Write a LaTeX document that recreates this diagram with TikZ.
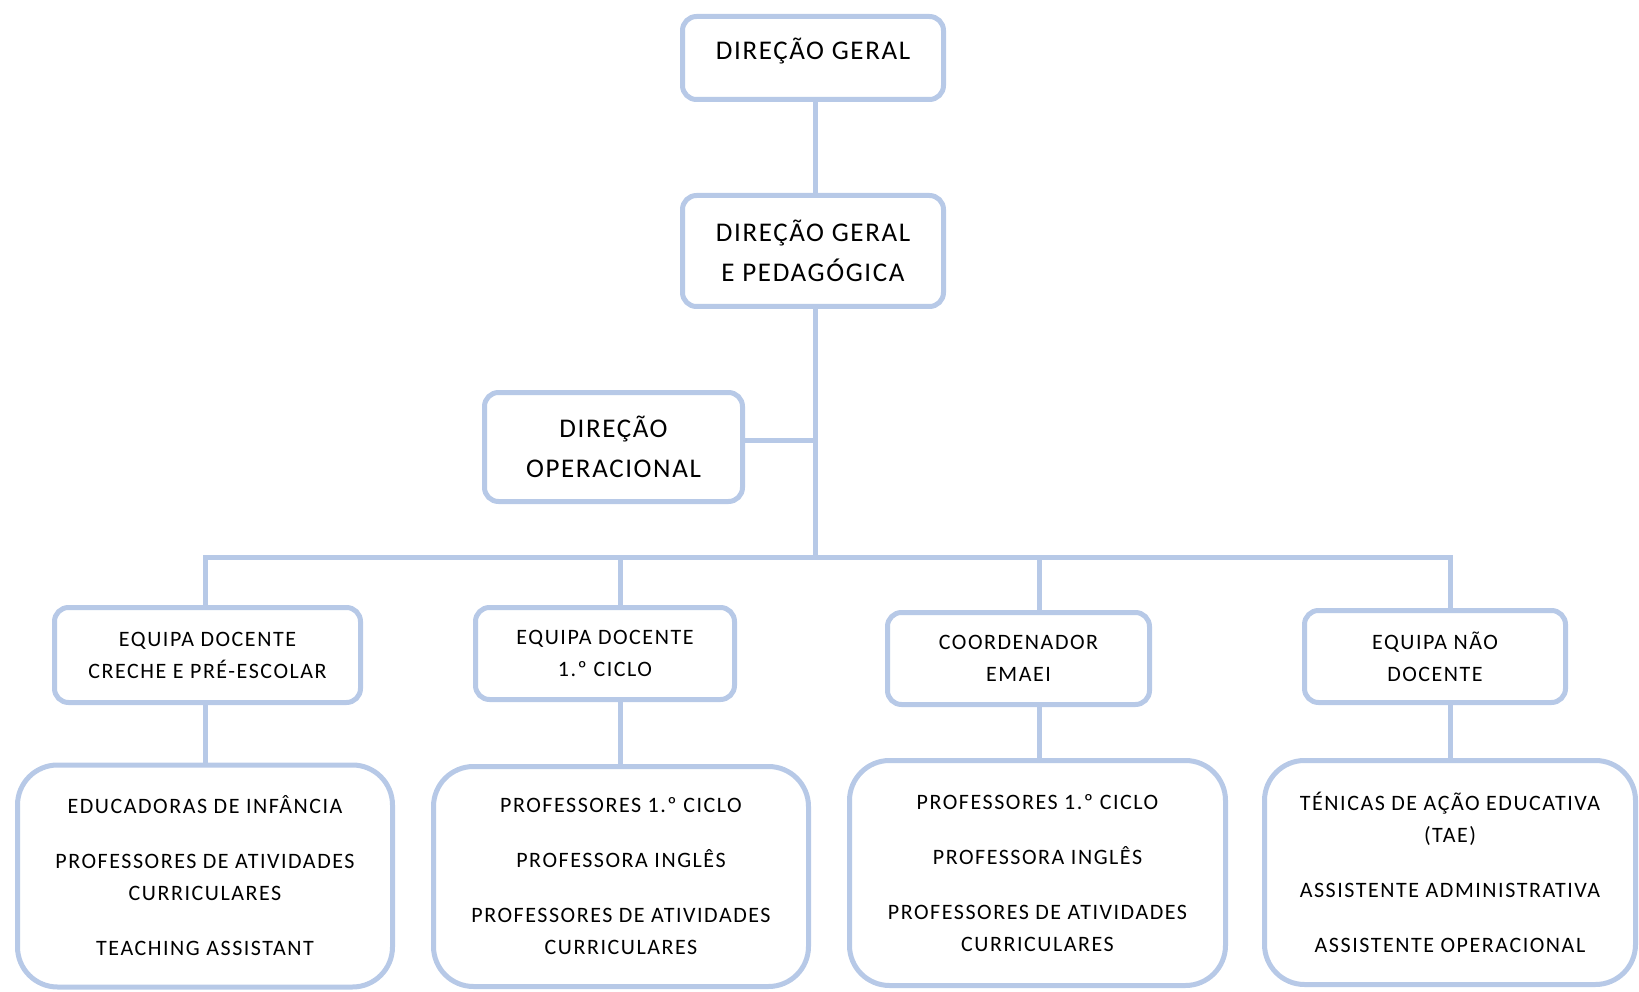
\documentclass[tikz,border=0pt]{standalone}
\usepackage{fontspec}
\setmainfont{Carlito}
\newfontfamily\orgfont[LetterSpace=7]{Carlito}
\newfontfamily\orgfontt[LetterSpace=6]{Carlito}
\usetikzlibrary{positioning}
\definecolor{lineblue}{RGB}{183,201,231}
\tikzset{
    mynode/.style = {rectangle, rounded corners=14pt, line width=5pt, draw=lineblue, align=center, fill=white, inner sep=0pt, minimum width=261pt, font=\orgfont\fontsize{22}{32}\selectfont, text=black},
    mynodet/.style = {mynode, font=\orgfontt\fontsize{27}{40}\selectfont},
    mynodel/.style = {mynode, rounded corners=40pt, minimum width=375pt, minimum height=222pt},
    edgeb/.style = {-, line width=5pt, lineblue, line join=miter},
}

\begin{document}
\begin{tikzpicture}[x=1pt, y=-1pt]
  \useasboundingbox (0,0) rectangle (1639,992);
  % direction
  \node[mynodet, minimum height=83pt, text depth=19pt] (dg) at (813,58) {DIREÇÃO GERAL};
  \node[mynodet, minimum height=111pt] (dgp) at (813,251) {DIREÇÃO GERAL\\E PEDAGÓGICA};
  \node[mynodet, minimum width=258pt, minimum height=109pt] (dop) at (613.5,447) {DIREÇÃO\\OPERACIONAL};
  % teams
  \node[mynode, minimum width=306pt, minimum height=95pt] (eA) at (207.5,655) {EQUIPA DOCENTE\\CRECHE E PRÉ-ESCOLAR};
  \node[mynode, minimum width=259pt, minimum height=92pt] (eB) at (605,653.5) {EQUIPA DOCENTE\\1.º CICLO};
  \node[mynode, minimum width=262pt, minimum height=92pt] (eC) at (1018.5,658.5) {COORDENADOR\\EMAEI};
  \node[mynode, minimum width=261pt, minimum height=92pt] (eD) at (1435,656.5) {EQUIPA NÃO\\DOCENTE};
  % staff
  \node[mynodel] (pA) at (205,876) {EDUCADORAS DE INFÂNCIA\\[23pt]PROFESSORES DE ATIVIDADES\\CURRICULARES\\[23pt]TEACHING ASSISTANT};
  \node[mynodel, minimum height=220pt] (pB) at (621,876.5) {PROFESSORES 1.º CICLO\\[23pt]PROFESSORA INGLÊS\\[23pt]PROFESSORES DE ATIVIDADES\\CURRICULARES};
  \node[mynodel, minimum width=376pt, minimum height=225pt] (pC) at (1037.5,873) {PROFESSORES 1.º CICLO\\[23pt]PROFESSORA INGLÊS\\[23pt]PROFESSORES DE ATIVIDADES\\CURRICULARES};
  \node[mynodel, minimum width=371pt, minimum height=224pt] (pD) at (1450,872.5) {TÉNICAS DE AÇÃO EDUCATIVA\\(TAE)\\[23pt]ASSISTENTE ADMINISTRATIVA\\[23pt]ASSISTENTE OPERACIONAL};
  % connectors
  \coordinate (spine) at (815,557);
  \coordinate (busA) at (205,557);
  \coordinate (busB) at (620,557);
  \coordinate (busC) at (1039,557);
  \coordinate (busD) at (1450,557);
  \draw[edgeb] (dg.south -| spine) -- (dgp.north -| spine);
  \draw[edgeb] (dgp.south -| spine) -- (spine);
  \draw[edgeb] ([yshift=7pt]dop.east) -- ([yshift=7pt]dop.east -| spine);
  \draw[edgeb] (busA |- eA.north) -- (busA) -- (busD) -- (busD |- eD.north);
  \draw[edgeb] (busB) -- (busB |- eB.north);
  \draw[edgeb] (busC) -- (busC |- eC.north);
  \draw[edgeb] (busA |- eA.south) -- (busA |- pA.north);
  \draw[edgeb] (busB |- eB.south) -- (busB |- pB.north);
  \draw[edgeb] (busC |- eC.south) -- (busC |- pC.north);
  \draw[edgeb] (busD |- eD.south) -- (busD |- pD.north);
\end{tikzpicture}
\end{document}
